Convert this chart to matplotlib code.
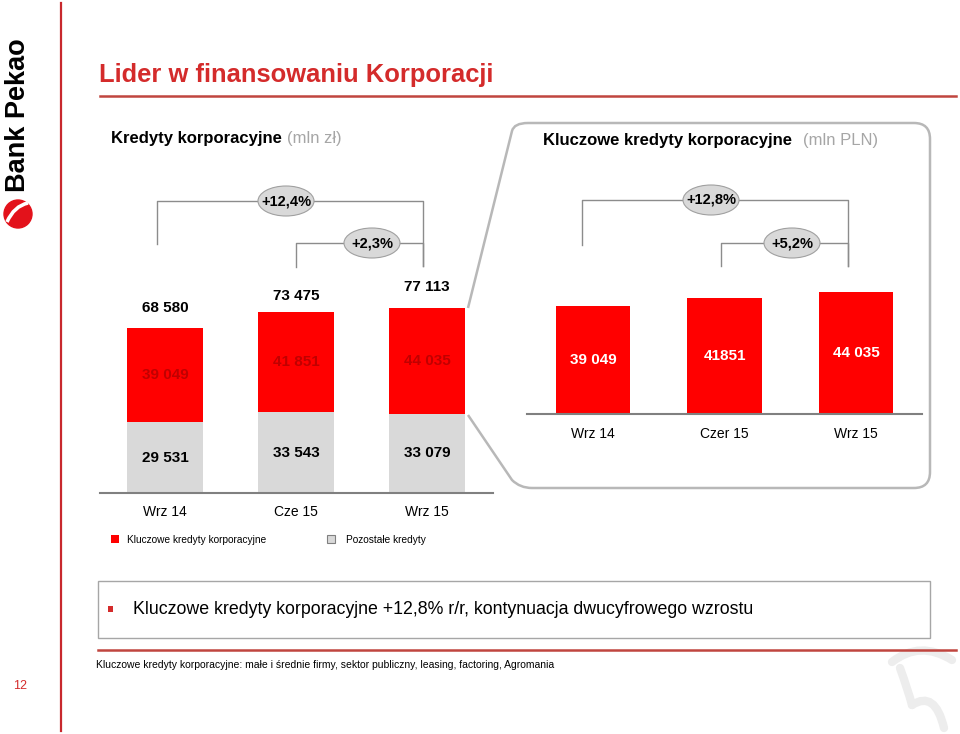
import matplotlib
matplotlib.use('Agg')
import matplotlib.pyplot as plt
from matplotlib.patches import Ellipse, Rectangle, Circle, PathPatch
from matplotlib.path import Path

plt.rcParams['font.family'] = ['Liberation Sans', 'DejaVu Sans']

# ---------------- data ----------------
left_categories = ['Wrz 14', 'Cze 15', 'Wrz 15']
key_loans = [39049, 41851, 44035]
other_loans = [29531, 33543, 33079]
total_loans = [68580, 73475, 77113]
key_labels = ['39 049', '41 851', '44 035']
other_labels = ['29 531', '33 543', '33 079']
total_labels = ['68 580', '73 475', '77 113']

right_categories = ['Wrz 14', 'Czer 15', 'Wrz 15']
right_values = [39049, 41851, 44035]
right_labels = ['39 049', '41851', '44 035']

left_growth = ['+12,4%', '+2,3%']
right_growth = ['+12,8%', '+5,2%']

RED = '#FF0000'
GRAY = '#D9D9D9'
BRAND = '#D42B2B'
LINEGRAY = '#8C8C8C'

W, H = 960, 734
fig = plt.figure(figsize=(9.6, 7.34), dpi=100)
ov = fig.add_axes([0, 0, 1, 1], zorder=0)
ov.set_xlim(0, W)
ov.set_ylim(H, 0)
ov.axis('off')


def fax(x0, y_top, x1, y_bot):
    return [x0 / W, 1 - y_bot / H, (x1 - x0) / W, (y_bot - y_top) / H]


# ---------------- slide decoration ----------------
ov.plot([61, 61], [3, 731], color='#C8282D', lw=1.6)
ov.text(99, 75, 'Lider w finansowaniu Korporacji', color=BRAND, fontsize=18.4,
        fontweight='bold', ha='left', va='center')
ov.plot([100, 956], [95.5, 95.5], color='#C0453F', lw=1.8)

# logo
ov.text(18, 115, 'Bank Pekao', rotation=90, ha='center', va='center', fontsize=19.5,
        fontweight='bold', color='black')
ov.add_patch(Circle((18, 214), 14, color='#E3121B'))
logo_path = Path([(7, 222), (14, 206), (28, 203)], [Path.MOVETO, Path.CURVE3, Path.CURVE3])
ov.add_patch(PathPatch(logo_path, fill=False, edgecolor='white', lw=2.6))

# page number
ov.text(20, 686, '12', color=BRAND, fontsize=9, ha='center', va='center')

# titles
ov.text(111, 138, 'Kredyty korporacyjne', fontsize=12, fontweight='bold', ha='left', va='center')
ov.text(287, 138, '(mln zł)', fontsize=12, color='#A6A6A6', ha='left', va='center')
ov.text(543, 140, 'Kluczowe kredyty korporacyjne', fontsize=12, fontweight='bold',
        ha='left', va='center')
ov.text(803, 140, '(mln PLN)', fontsize=12, color='#A6A6A6', ha='left', va='center')

# right callout panel
verts = [(468, 308), (512, 131), (514, 123), (528, 123), (914, 123), (930, 123),
         (930, 139), (930, 472), (930, 488), (914, 488), (532, 488), (520, 488),
         (512, 480), (468, 415)]
codes = [Path.MOVETO, Path.LINETO, Path.CURVE3, Path.CURVE3, Path.LINETO, Path.CURVE3,
         Path.CURVE3, Path.LINETO, Path.CURVE3, Path.CURVE3, Path.LINETO, Path.CURVE3,
         Path.CURVE3, Path.LINETO]
ov.add_patch(PathPatch(Path(verts, codes), fill=False, edgecolor='#B8B8B8', lw=1.8))


# growth brackets
def bracket(x_left, x_right, y, y_left_end, y_right_end, label, cx):
    ov.plot([x_left, x_left, x_right, x_right], [y_left_end, y, y, y_right_end],
            color=LINEGRAY, lw=1.0, zorder=2)
    ov.add_patch(Ellipse((cx, y), 56, 30, facecolor='#D9D9D9', edgecolor='#A0A0A0',
                         lw=0.8, zorder=3))
    ov.text(cx, y, label, fontsize=10.5, fontweight='bold', ha='center', va='center',
            zorder=4)


bracket(157, 423, 201, 244, 266, left_growth[0], 286)
bracket(296, 423, 243, 267, 266, left_growth[1], 372)
bracket(582, 848, 200, 245, 266, right_growth[0], 711)
bracket(721, 848, 243, 266, 266, right_growth[1], 792)

# legend
ov.add_patch(Rectangle((111, 535), 8, 8, facecolor=RED, edgecolor='none'))
ov.text(127, 540, 'Kluczowe kredyty korporacyjne', fontsize=7.3, ha='left', va='center')
ov.add_patch(Rectangle((327, 535), 8, 8, facecolor=GRAY, edgecolor='#808080', lw=0.8))
ov.text(346, 540, 'Pozostałe kredyty', fontsize=7.3, ha='left', va='center')

# message box
ov.add_patch(Rectangle((98, 581), 832, 57, facecolor='white', edgecolor='#A6A6A6', lw=1.0))
ov.add_patch(Rectangle((108, 606), 5, 6, facecolor='#D42B2B', edgecolor='none'))
ov.text(133, 610, 'Kluczowe kredyty korporacyjne +12,8% r/r, kontynuacja dwucyfrowego wzrostu',
        fontsize=12.8, ha='left', va='center')
ov.plot([98, 956], [650, 650], color='#C0453F', lw=1.8)
ov.text(96, 665, 'Kluczowe kredyty korporacyjne: małe i średnie firmy, sektor publiczny, '
        'leasing, factoring, Agromania', fontsize=7.45, ha='left', va='center')

# watermark
wm1 = Path([(892, 662), (920, 640), (952, 660)], [Path.MOVETO, Path.CURVE3, Path.CURVE3])
wm2 = Path([(900, 668), (908, 690), (912, 705)], [Path.MOVETO, Path.CURVE3, Path.CURVE3])
wm3 = Path([(912, 705), (935, 690), (944, 728)], [Path.MOVETO, Path.CURVE3, Path.CURVE3])
for p in (wm1, wm2, wm3):
    ov.add_patch(PathPatch(p, fill=False, edgecolor='#EDEDED', lw=6, capstyle='round'))

# ---------------- left chart ----------------
axL = fig.add_axes(fax(100, 280, 493, 493), zorder=1)
axL.patch.set_alpha(0)
xL = list(range(len(left_categories)))
axL.bar(xL, other_loans, width=0.573, color=GRAY)
axL.bar(xL, key_loans, bottom=other_loans, width=0.573, color=RED)
axL.set_xlim(-0.496, 2.504)
axL.set_ylim(0, 88750)
for i in xL:
    axL.text(i, other_loans[i] / 2, other_labels[i], ha='center', va='center',
             fontsize=11, fontweight='bold', color='black')
    axL.text(i, other_loans[i] + key_loans[i] / 2, key_labels[i], ha='center', va='center',
             fontsize=11, fontweight='bold', color='#C00000')
    axL.annotate(total_labels[i], (i, total_loans[i]), xytext=(0, 15),
                 textcoords='offset points', ha='center', va='center', fontsize=11,
                 fontweight='bold')
axL.set_xticks(xL)
axL.set_xticklabels(left_categories, fontsize=10)
axL.tick_params(axis='x', length=0, pad=9)
axL.set_yticks([])
for s in ('top', 'right', 'left'):
    axL.spines[s].set_visible(False)
axL.spines['bottom'].set_color('#808080')
axL.spines['bottom'].set_linewidth(1.5)

# ---------------- right chart ----------------
axR = fig.add_axes(fax(527, 280, 922, 414), zorder=1)
axR.patch.set_alpha(0)
xR = list(range(len(right_categories)))
axR.bar(xR, right_values, width=0.57, color=RED)
axR.set_xlim(-0.502, 2.502)
axR.set_ylim(0, 48375)
for i in xR:
    axR.text(i, right_values[i] / 2, right_labels[i], ha='center', va='center',
             fontsize=11, fontweight='bold', color='white')
axR.set_xticks(xR)
axR.set_xticklabels(right_categories, fontsize=10)
axR.tick_params(axis='x', length=0, pad=9)
axR.set_yticks([])
for s in ('top', 'right', 'left'):
    axR.spines[s].set_visible(False)
axR.spines['bottom'].set_color('#808080')
axR.spines['bottom'].set_linewidth(1.5)

fig.savefig('out.png', dpi=100)
